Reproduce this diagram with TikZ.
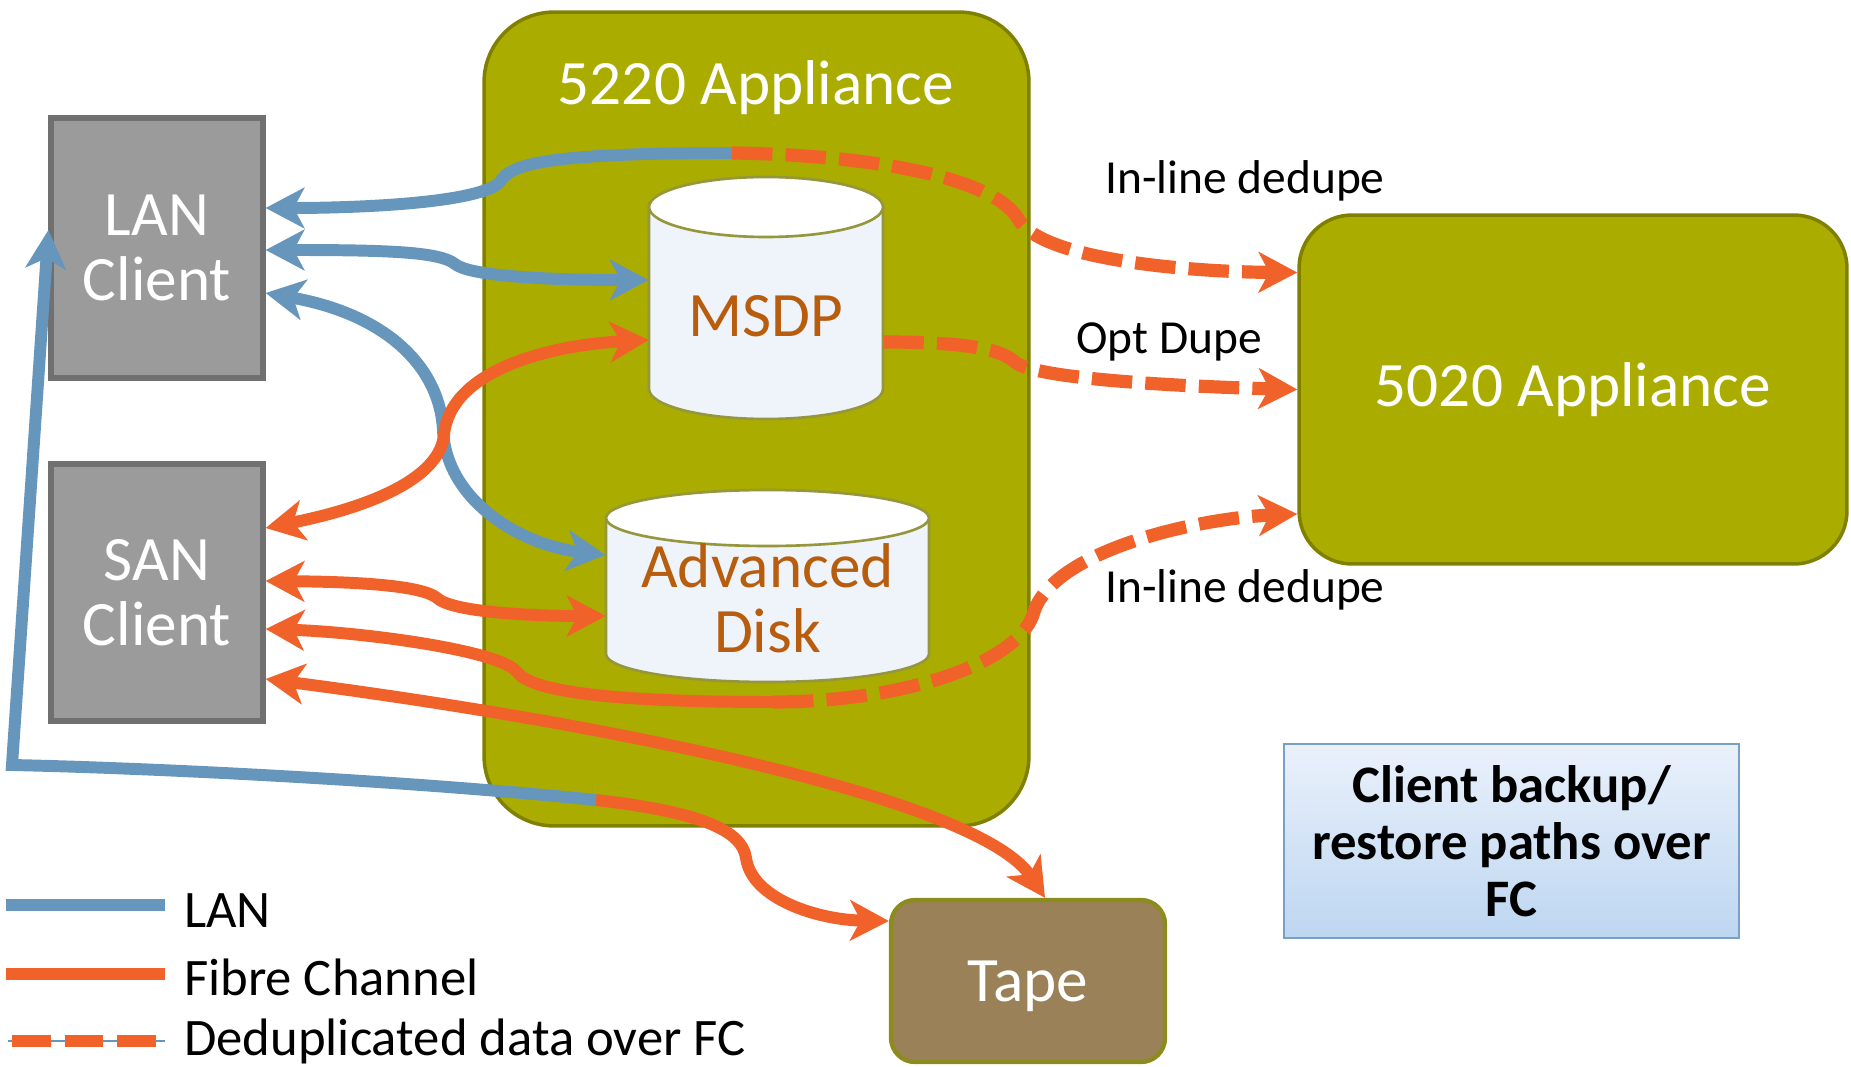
\documentclass[tikz,border=0pt]{standalone}
\usepackage{fontspec}
\setmainfont{Carlito}
\usetikzlibrary{arrows.meta}

\definecolor{applgreen}{RGB}{170,172,0}
\definecolor{appledge}{RGB}{128,128,0}
\definecolor{clientgray}{RGB}{155,155,155}
\definecolor{clientedge}{RGB}{112,112,112}
\definecolor{tapebrown}{RGB}{154,129,88}
\definecolor{tapeedge}{RGB}{140,140,30}
\definecolor{diskfill}{RGB}{238,244,250}
\definecolor{diskedge}{RGB}{150,150,60}
\definecolor{disktext}{RGB}{184,92,14}
\definecolor{lanblue}{RGB}{103,150,188}
\definecolor{fcorange}{RGB}{240,98,42}
\definecolor{notetop}{RGB}{234,241,251}
\definecolor{notebottom}{RGB}{189,214,241}
\definecolor{noteedge}{RGB}{120,160,200}

\tikzset{
  applbox/.style={draw=appledge, line width=2pt, fill=applgreen, text=white, font=\fontsize{36}{37}\selectfont},
  clientbox/.style={draw=clientedge, line width=3pt, fill=clientgray, minimum width=4.24cm, text=white, align=center, font=\fontsize{36}{37}\selectfont},
  diskbody/.style={draw=diskedge, line width=1.5pt, fill=diskfill},
  disklabel/.style={text=disktext, align=center, inner sep=0pt, font=\fontsize{36}{37}\selectfont},
  lanline/.style={draw=lanblue, line width=6.8pt},
  fcline/.style={draw=fcorange, line width=6.8pt},
  dedupline/.style={draw=fcorange, line width=7.5pt, dash pattern=on 23pt off 7.5pt},
  pathlabel/.style={font=\fontsize{27}{30}\selectfont},
  legendtext/.style={anchor=base west, font=\fontsize{30}{32}\selectfont},
}

\begin{document}
\begin{tikzpicture}[x=0.02cm, y=-0.02cm, >={Stealth[length=22pt, width=23pt, inset=6pt]}]
  \useasboundingbox (0,0) rectangle (1851,1067);

  % Appliances, clients and tape
  \node[applbox, rounded corners=1.4cm, minimum width=10.9cm, minimum height=16.28cm] (app5220) at (756.5,419) {};
  \node[text=white, font=\fontsize{36}{37}\selectfont] (title5220) at (756,88) {5220 Appliance};
  \node[applbox, rounded corners=1.06cm, minimum width=10.96cm, minimum height=6.98cm] (app5020) at (1573,389.5) {5020 Appliance};
  \node[clientbox, minimum height=5.2cm] (lan) at (157,248) {LAN\\Client};
  \node[clientbox, minimum height=5.14cm] (san) at (157,592.5) {SAN\\Client};
  \node[draw=tapeedge, line width=2.5pt, fill=tapebrown, rounded corners=0.48cm, minimum width=5.48cm, minimum height=3.24cm,
        text=white, text depth=0pt, font=\fontsize{36}{37}\selectfont] (tape) at (1028,981) {Tape};

  % MSDP disk
  \draw[diskbody] (649,207) -- (649,389) arc[start angle=180, end angle=360, x radius=2.34cm, y radius=0.6cm] -- (883,207) -- cycle;
  \draw[diskbody, fill=white] (766,207) ellipse[x radius=2.34cm, y radius=0.6cm];
  \node[disklabel, minimum width=4.68cm] (msdp) at (766,316) {MSDP};

  % Advanced disk
  \draw[diskbody] (606,518) -- (606,654) arc[start angle=180, end angle=360, x radius=3.23cm, y radius=0.56cm] -- (929,518) -- cycle;
  \draw[diskbody, fill=white] (767.5,518) ellipse[x radius=3.23cm, y radius=0.56cm];
  \node[disklabel, minimum width=6.46cm] (adisk) at (767.5,598) {Advanced\\Disk};

  % Note
  \node[draw=noteedge, line width=1.5pt, top color=notetop, bottom color=notebottom, minimum width=9.1cm, minimum height=3.88cm,
        align=center, font=\bfseries\fontsize{30}{32.5}\selectfont] (note) at (1511.5,841) {Client backup/\\restore paths over\\FC};

  % Path labels
  \node[pathlabel] (inline1) at (1245,181) {In-line dedupe};
  \node[pathlabel] (optdupe) at (1169,342) {Opt Dupe};
  \node[pathlabel] (inline2) at (1245,590) {In-line dedupe};

  % LAN client paths
  \coordinate (lanjoin) at (732,153);
  \draw[lanline, ->] (lanjoin) .. controls (540,153) and (510,165) .. (500,182) .. controls (480,203) and (360,208) .. ([yshift=0.8cm]lan.east);
  \draw[dedupline, ->] (lanjoin) .. controls (880,155) and (1000,180) .. (1020,222) .. controls (1050,262) and (1200,272) .. ([yshift=2.34cm]app5020.west);
  \draw[lanline, <->] ([yshift=-0.04cm]lan.east) .. controls (390,250) and (440,252) .. (455,264) .. controls (472,278) and (570,280) .. ([yshift=0.72cm]msdp.west);
  \draw[lanline, <->] ([yshift=-0.9cm]lan.east) .. controls (390,315) and (440,370) .. (443,430) .. controls (446,500) and (520,545) .. ([yshift=0.86cm]adisk.west);

  % SAN client paths
  \draw[fcline, <->] ([yshift=1.29cm]san.east) .. controls (380,505) and (440,475) .. (444,435) .. controls (450,370) and (550,345) .. ([yshift=-0.48cm]msdp.west);
  \draw[fcline, <->] ([yshift=0.23cm]san.east) .. controls (380,582) and (425,588) .. (437,598) .. controls (452,612) and (530,616) .. ([yshift=-0.36cm]adisk.west);
  \coordinate (sanjoin) at (773,702);
  \draw[fcline, ->] (sanjoin) .. controls (600,702) and (530,690) .. (517,672) .. controls (500,650) and (360,632) .. ([yshift=-0.73cm]san.east);
  \draw[dedupline, ->] (sanjoin) .. controls (900,702) and (1015,665) .. (1033,615) .. controls (1050,550) and (1200,518) .. ([yshift=-2.49cm]app5020.west);
  \draw[dedupline, ->] ([yshift=-0.52cm]msdp.east) .. controls (960,342) and (1000,348) .. (1015,362) .. controls (1035,380) and (1200,387) .. (app5020.west);
  \draw[fcline, <->] ([yshift=-1.73cm]san.east) .. controls (620,725) and (980,800) .. ([xshift=0.34cm]tape.north);

  % Tape path
  \coordinate (tapejoin) at (596,800);
  \draw[lanline, ->] (tapejoin) .. controls (400,780) and (150,768) .. (12,765) -- ([yshift=0.36cm]lan.west);
  \draw[fcline, ->] (tapejoin) .. controls (700,812) and (742,830) .. (746,858) .. controls (752,900) and (820,920) .. ([yshift=1.2cm]tape.west);

  % Legend
  \draw[lanblue, line width=7pt] (6,905) -- (165,905);
  \draw[fcorange, line width=7pt] (6,974) -- (165,974);
  \draw[lanblue, line width=1pt] (8,1041) -- (165,1041);
  \draw[fcorange, line width=7pt, dash pattern=on 22pt off 8pt] (12,1041) -- (160,1041);
  \node[legendtext] (leglan) at (178,927) {LAN};
  \node[legendtext] (legfc) at (178,995) {Fibre Channel};
  \node[legendtext] (legdedup) at (178,1055) {Deduplicated data over FC};
\end{tikzpicture}
\end{document}
